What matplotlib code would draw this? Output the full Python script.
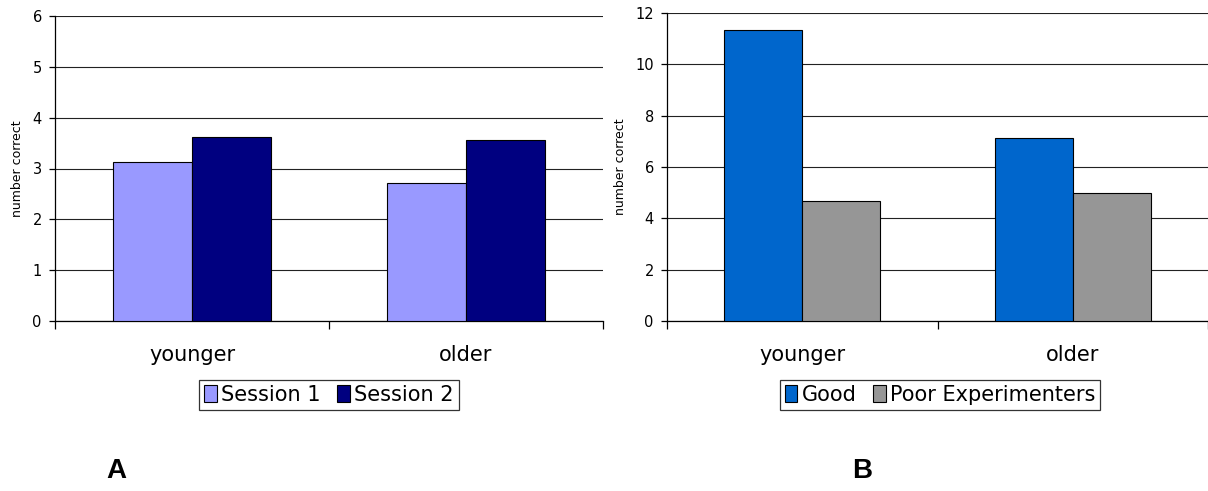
import matplotlib
matplotlib.use("Agg")
import matplotlib.pyplot as plt
import numpy as np
from matplotlib.patches import Patch

plt.rcParams['font.family'] = ['DejaVu Sans']

categories = ["younger", "older"]

# Panel A: sessions
session_labels = ["Session 1", "Session 2"]
session1 = [3.12, 2.71]
session2 = [3.62, 3.56]
session_colors = ["#9999FF", "#000080"]
yticks_a = [0, 1, 2, 3, 4, 5, 6]

# Panel B: experimenters
exp_labels = ["Good", "Poor Experimenters"]
good = [11.33, 7.14]
poor = [4.68, 4.99]
exp_colors = ["#0066CC", "#969696"]
yticks_b = [0, 2, 4, 6, 8, 10, 12]

W, H = 1208, 491
fig = plt.figure(figsize=(W / 100, H / 100), dpi=100)


def panel(rect, series, colors, labels, yticks, xmax, legend_xy, letter, letter_xy):
    ax = fig.add_axes(rect)
    x = np.arange(len(categories)) + 0.5
    bw = 0.288
    for k, (vals, col) in enumerate(zip(series, colors)):
        ax.bar(x + (k - 0.5) * bw, vals, width=bw, color=col,
               edgecolor="black", linewidth=0.8, zorder=3)
    ax.set_ylim(yticks[0], yticks[-1])
    ax.set_xlim(0, xmax)
    ax.set_yticks(yticks)
    ax.yaxis.grid(True, color="#222222", linewidth=0.8, zorder=0)
    ax.set_axisbelow(True)
    for s in ("top", "right"):
        ax.spines[s].set_visible(False)
    for s in ("left", "bottom"):
        ax.spines[s].set_linewidth(0.9)
        ax.spines[s].set_color("black")
    ax.set_xticks(np.arange(len(categories) + 1))
    ax.set_xticklabels([])
    ax.set_xticks(x, minor=True)
    ax.set_xticklabels(categories, minor=True, fontsize=15)
    ax.tick_params(axis="x", which="major", direction="out", length=6, width=0.9)
    ax.tick_params(axis="x", which="minor", length=0, pad=17)
    ax.tick_params(axis="y", direction="out", length=4.5, width=0.9, labelsize=10.5, pad=5)
    ax.set_ylabel("number correct", fontsize=9, labelpad=6)
    handles = [Patch(facecolor=c, edgecolor="black", linewidth=0.8) for c in colors]
    leg = fig.legend(handles, labels, loc="center", bbox_to_anchor=legend_xy,
                     ncol=len(labels), fontsize=15, frameon=True, fancybox=False,
                     handlelength=0.6, handleheight=0.9, handletextpad=0.2,
                     columnspacing=0.8, borderpad=0.25, borderaxespad=0)
    leg.get_frame().set_edgecolor("black")
    leg.get_frame().set_linewidth(0.9)
    fig.text(letter_xy[0], letter_xy[1], letter, fontsize=20, fontweight="bold",
             family="Liberation Sans", ha="center", va="center")
    return ax


y0 = 1 - 321 / H
panel([55 / W, y0, (603 - 55) / W, (321 - 16) / H],
      [session1, session2], session_colors, session_labels, yticks_a, 2.0,
      (329 / W, 1 - 395 / H), "A", (116 / W, 1 - 471 / H))
panel([667 / W, y0, (W - 667) / W, (321 - 13) / H],
      [good, poor], exp_colors, exp_labels, yticks_b, (W - 667) / 272.5,
      (940 / W, 1 - 395 / H), "B", (862 / W, 1 - 471 / H))

fig.savefig("out.png", dpi=100)
